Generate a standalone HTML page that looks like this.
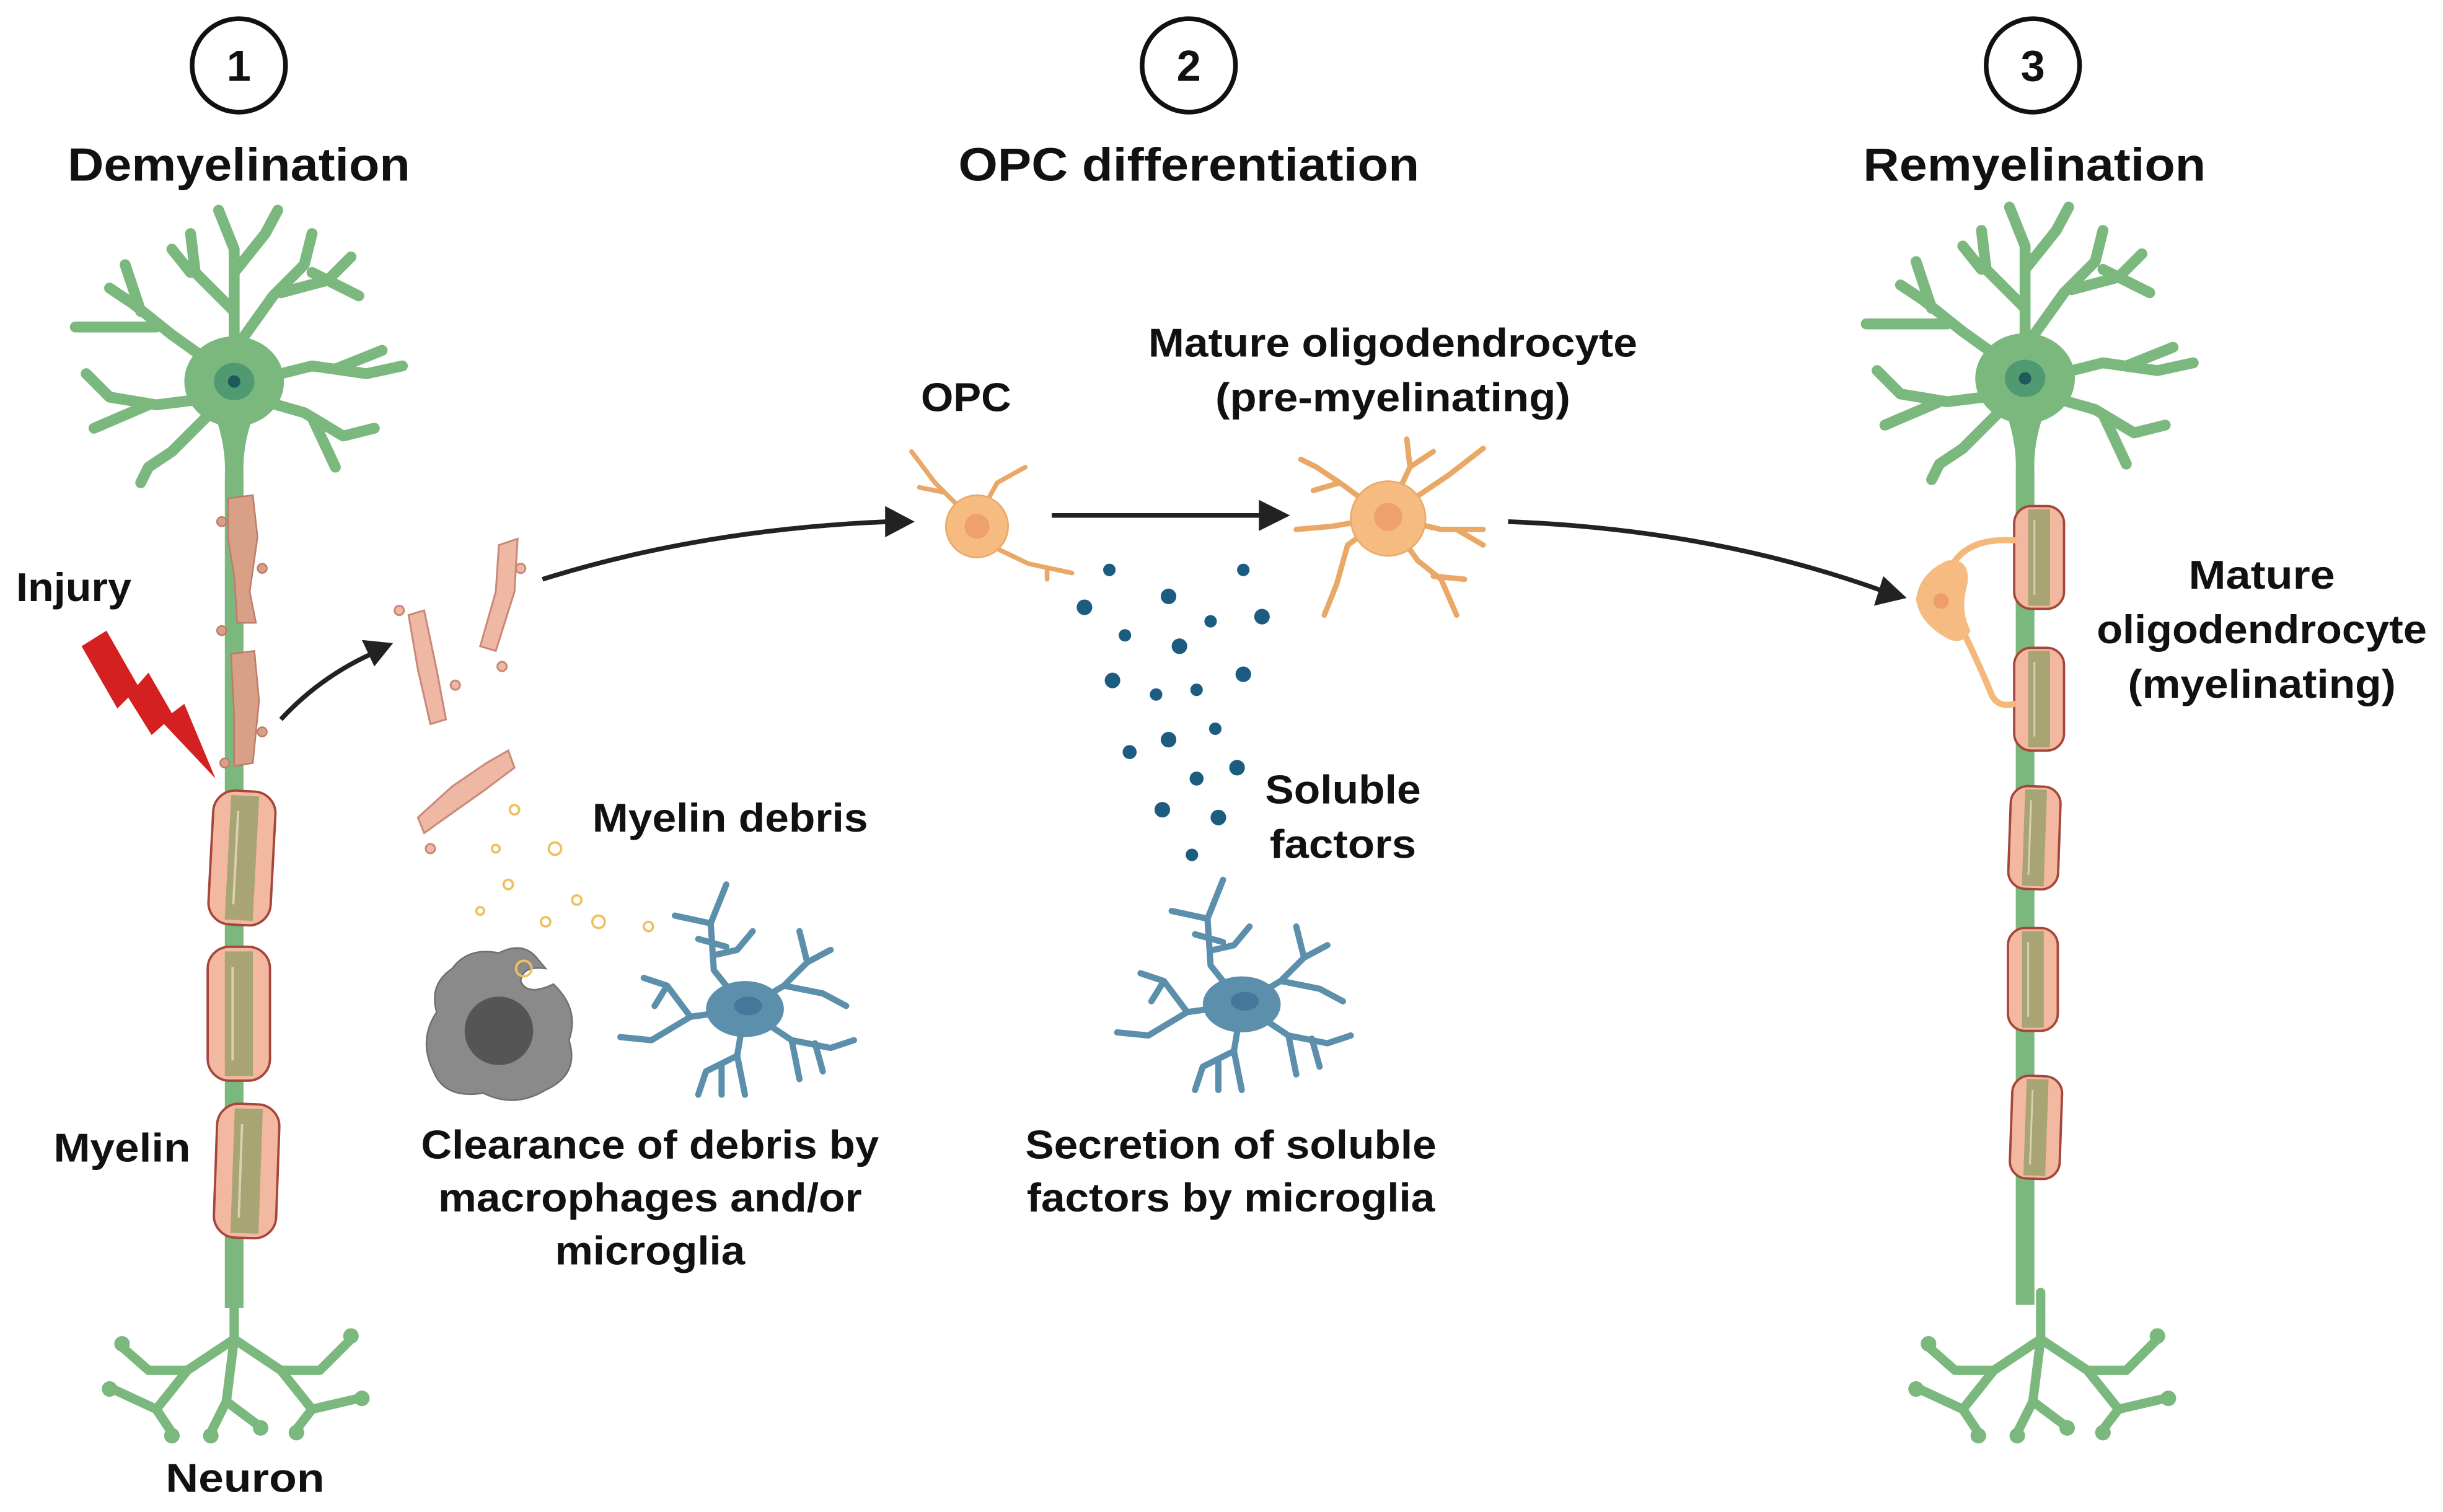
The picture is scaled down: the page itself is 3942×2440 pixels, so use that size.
<!DOCTYPE html>
<html><head><meta charset="utf-8"><style>
html,body{margin:0;padding:0;background:#fff;}
svg{display:block}
text{font-family:"Liberation Sans",sans-serif;font-weight:bold;fill:#111;}
</style></head><body>
<svg width="3942" height="2440" viewBox="0 0 1568 971" xmlns="http://www.w3.org/2000/svg">
<defs>
<g id="ntop">
  <g fill="none" stroke="#7ab87e" stroke-width="7" stroke-linecap="round" stroke-linejoin="round">
    <path d="M150 240 L150 160 L140 135 M150 175 L170 150 L178 135 M150 200 L125 175 L122 150 M122 175 L110 160"/>
    <path d="M150 225 L175 190 L195 170 L200 150 M180 188 L210 180 L225 165 M200 175 L230 190"/>
    <path d="M145 240 L110 215 L85 195 L70 185 M100 210 L75 210 L48 210 M90 200 L80 170"/>
    <path d="M140 255 L100 260 L70 255 L55 240 M95 260 L60 275 M135 265 L110 290 L95 300 L90 310"/>
    <path d="M160 245 L200 235 L235 240 L258 235 M215 237 L245 225"/>
    <path d="M160 255 L195 265 L220 280 L240 275 M200 268 L215 300"/>
  </g>
  <ellipse cx="150" cy="245" rx="32" ry="29" fill="#7ab87e"/>
  <ellipse cx="150" cy="245" rx="13" ry="12" fill="#4f9a70"/>
  <circle cx="150" cy="245" r="4" fill="#1f5a5a"/>
  <path d="M136 262 Q145 285 144 305 L144 840 L156 840 L156 305 Q155 285 164 262 Z" fill="#7ab87e"/>
</g>
<g id="nbot" fill="none" stroke="#7ab87e" stroke-width="6" stroke-linecap="round" stroke-linejoin="round">
  <path d="M150 830 L150 860 L120 880 L95 880 L78 865 M120 880 L100 905 L72 892 M100 905 L110 920"/>
  <path d="M150 860 L145 900 L135 920 M145 900 L165 915"/>
  <path d="M150 860 L180 880 L205 880 L225 860 M180 880 L200 905 L230 898 M200 905 L190 918"/>
  <g fill="#7ab87e" stroke="none"><circle cx="78" cy="863" r="5"/><circle cx="70" cy="892" r="5"/><circle cx="110" cy="922" r="5"/><circle cx="135" cy="922" r="5"/><circle cx="167" cy="917" r="5"/><circle cx="225" cy="858" r="5"/><circle cx="232" cy="898" r="5"/><circle cx="190" cy="920" r="5"/></g>
</g>
<g id="seg">
  <rect x="-20" y="-43" width="40" height="86" rx="14" fill="#f2b8a0" stroke="#a5453c" stroke-width="1.5"/>
  <rect x="-9" y="-40" width="18" height="80" fill="#a8a474"/>
  <line x1="-4" y1="-30" x2="-4" y2="30" stroke="#d8d2b0" stroke-width="1.5"/>
</g>
<g id="segs">
  <rect x="-16" y="-33" width="32" height="66" rx="11" fill="#f2b8a0" stroke="#a5453c" stroke-width="1.5"/>
  <rect x="-7" y="-31" width="14" height="62" fill="#a8a474"/>
  <line x1="-3" y1="-24" x2="-3" y2="24" stroke="#d8d2b0" stroke-width="1.2"/>
</g>
<g id="mg" fill="none" stroke="#5b8fab" stroke-width="4" stroke-linecap="round" stroke-linejoin="round">
  <path d="M0 0 L-20 -25 L-22 -55 L-12 -80 M-22 -55 L-45 -60 M-18 -35 L-5 -38 L5 -50 M-12 -40 L-30 -45"/>
  <path d="M0 0 L-35 5 L-50 -15 L-65 -20 M-35 5 L-60 20 L-80 18 M-50 -15 L-58 -2"/>
  <path d="M0 0 L25 -15 L40 -30 L55 -38 M40 -30 L35 -50 M25 -15 L50 -10 L65 -2"/>
  <path d="M0 0 L30 20 L55 25 L70 20 M45 22 L50 40 M30 20 L35 45"/>
  <path d="M0 0 L-5 30 L-25 40 L-30 55 M-5 30 L0 55 M-15 35 L-15 55"/>
  <ellipse cx="0" cy="0" rx="25" ry="18" fill="#5b8fab" stroke="none"/>
  <ellipse cx="2" cy="-2" rx="9" ry="6" fill="#44789a" stroke="none"/>
</g>
</defs>

<g fill="none" stroke="#111" stroke-width="3">
<circle cx="153" cy="42" r="30"/><circle cx="763" cy="42" r="30"/><circle cx="1305" cy="42" r="30"/>
</g>
<text x="153" y="52" font-size="28" text-anchor="middle">1</text>
<text x="763" y="52" font-size="28" text-anchor="middle">2</text>
<text x="1305" y="52" font-size="28" text-anchor="middle">3</text>
<text x="153" y="116" font-size="30" text-anchor="middle" textLength="220" lengthAdjust="spacingAndGlyphs">Demyelination</text>
<text x="763" y="116" font-size="30" text-anchor="middle" textLength="296" lengthAdjust="spacingAndGlyphs">OPC differentiation</text>
<text x="1306" y="116" font-size="30" text-anchor="middle" textLength="220" lengthAdjust="spacingAndGlyphs">Remyelination</text>

<use href="#ntop"/>
<use href="#nbot"/>
<g fill="#d9a088" stroke="#c07a6a" stroke-width="1">
<path d="M146 320 L162 318 L165 345 L160 380 L164 400 L152 400 L150 370 L146 345 Z"/>
<path d="M148 420 L163 418 L166 450 L162 490 L150 492 L150 460 Z"/>
<circle cx="142" cy="335" r="3"/><circle cx="168" cy="365" r="3"/><circle cx="142" cy="405" r="3"/><circle cx="168" cy="470" r="3"/><circle cx="144" cy="490" r="3"/>
</g>
<use href="#seg" transform="translate(155,551) rotate(3)"/>
<use href="#seg" transform="translate(153,651)"/>
<use href="#seg" transform="translate(158,752) rotate(2)"/>
<path d="M52 415 L68 405 L88 440 L95 432 L110 458 L118 452 L138 500 L105 465 L97 472 L82 448 L75 455 Z" fill="#d42020"/>
<text x="10" y="386" font-size="26" textLength="74" lengthAdjust="spacingAndGlyphs">Injury</text>
<text x="34" y="746" font-size="26" textLength="88" lengthAdjust="spacingAndGlyphs">Myelin</text>
<text x="106" y="958" font-size="26" textLength="102" lengthAdjust="spacingAndGlyphs">Neuron</text>

<g fill="#efb8a4" stroke="#c98878" stroke-width="1.2">
<path d="M262 395 L272 392 L280 430 L286 462 L276 465 L268 430 Z"/>
<path d="M320 350 L332 346 L330 380 L318 418 L308 415 L318 380 Z"/>
<path d="M268 525 L290 505 L312 490 L326 482 L330 493 L310 508 L286 525 L272 535 Z"/>
<circle cx="256" cy="392" r="3"/><circle cx="292" cy="440" r="3"/><circle cx="322" cy="428" r="3"/><circle cx="334" cy="365" r="3"/><circle cx="276" cy="545" r="3"/>
</g>
<g fill="none" stroke="#f0c060" stroke-width="1.5">
<circle cx="330" cy="520" r="3"/><circle cx="356" cy="545" r="4"/><circle cx="318" cy="545" r="2.5"/><circle cx="326" cy="568" r="3"/><circle cx="370" cy="578" r="3"/><circle cx="308" cy="585" r="2.5"/><circle cx="350" cy="592" r="3"/><circle cx="384" cy="592" r="4"/><circle cx="416" cy="595" r="3"/>
</g>
<path d="M290 622 Q300 608 320 612 Q336 604 345 616 L350 622 Q335 620 334 630 Q338 640 355 632 Q372 648 365 668 Q372 690 350 700 Q330 712 310 702 Q285 706 278 688 Q268 668 280 650 Q275 632 290 622 Z" fill="#8a8a8a" stroke="#707070"/>
<circle cx="320" cy="662" r="22" fill="#555"/>
<circle cx="336" cy="622" r="5" fill="none" stroke="#f0c060" stroke-width="1.5"/>
<use href="#mg" transform="translate(478,648)"/>
<text x="380" y="534" font-size="26" textLength="177" lengthAdjust="spacingAndGlyphs">Myelin debris</text>
<text x="417" y="744" font-size="26" text-anchor="middle" textLength="294" lengthAdjust="spacingAndGlyphs">Clearance of debris by</text>
<text x="417" y="778" font-size="26" text-anchor="middle" textLength="272" lengthAdjust="spacingAndGlyphs">macrophages and/or</text>
<text x="417" y="812" font-size="26" text-anchor="middle" textLength="122" lengthAdjust="spacingAndGlyphs">microglia</text>

<g fill="none" stroke="#222" stroke-width="3">
<path d="M180 462 Q205 435 238 420"/>
<path d="M348 372 Q450 340 570 335"/>
<path d="M675 331 L810 331"/>
<path d="M968 335 Q1100 340 1210 380"/>
</g>
<g fill="#222">
<path d="M252 413 L232 411 L240 428 Z"/>
<path d="M587 335 L568 325 L568 345 Z"/>
<path d="M828 331 L808 321 L808 341 Z"/>
<path d="M1224 384 L1209 370 L1203 389 Z"/>
</g>

<g fill="none" stroke="#eaa866" stroke-width="3" stroke-linecap="round">
<path d="M620 330 L600 310 L585 290 M605 316 L590 313"/>
<path d="M630 328 L640 310 L658 300"/>
<path d="M635 350 L660 362 L688 368 M672 365 L672 372"/>
</g>
<circle cx="627" cy="338" r="20" fill="#f6bb80" stroke="#eaa866"/>
<circle cx="627" cy="338" r="8" fill="#f0a06a"/>
<text x="620" y="264" font-size="26" text-anchor="middle" textLength="58" lengthAdjust="spacingAndGlyphs">OPC</text>
<g fill="none" stroke="#eaa866" stroke-width="3.5" stroke-linecap="round" stroke-linejoin="round">
<path d="M890 332 L860 310 L845 300 L835 295 M860 310 L843 315"/>
<path d="M890 332 L905 300 L903 282 M905 300 L920 290"/>
<path d="M890 332 L930 305 L952 288"/>
<path d="M890 332 L925 340 L952 340 M935 340 L952 350"/>
<path d="M890 332 L910 360 L925 372 L935 395 M920 370 L940 372"/>
<path d="M890 332 L865 350 L858 375 L850 395"/>
<path d="M890 332 L855 338 L832 340"/>
</g>
<circle cx="891" cy="333" r="24" fill="#f6bb80" stroke="#eaa866"/>
<circle cx="891" cy="332" r="9" fill="#f0a06a"/>
<text x="894" y="229" font-size="26" text-anchor="middle" textLength="314" lengthAdjust="spacingAndGlyphs">Mature oligodendrocyte</text>
<text x="894" y="264" font-size="26" text-anchor="middle" textLength="228" lengthAdjust="spacingAndGlyphs">(pre-myelinating)</text>
<g fill="#1c5c80">
<circle cx="712" cy="366" r="4"/><circle cx="696" cy="390" r="5"/><circle cx="750" cy="383" r="5"/><circle cx="777" cy="399" r="4"/><circle cx="798" cy="366" r="4"/><circle cx="810" cy="396" r="5"/><circle cx="722" cy="408" r="4"/><circle cx="757" cy="415" r="5"/><circle cx="714" cy="437" r="5"/><circle cx="742" cy="446" r="4"/><circle cx="768" cy="443" r="4"/><circle cx="798" cy="433" r="5"/><circle cx="725" cy="483" r="4.5"/><circle cx="750" cy="475" r="5"/><circle cx="780" cy="468" r="4"/><circle cx="794" cy="493" r="5"/><circle cx="768" cy="500" r="4.5"/><circle cx="746" cy="520" r="5"/><circle cx="782" cy="525" r="5"/><circle cx="765" cy="549" r="4"/>
</g>
<text x="862" y="516" font-size="26" text-anchor="middle" textLength="100" lengthAdjust="spacingAndGlyphs">Soluble</text>
<text x="862" y="551" font-size="26" text-anchor="middle" textLength="94" lengthAdjust="spacingAndGlyphs">factors</text>
<use href="#mg" transform="translate(797,645)"/>
<text x="790" y="744" font-size="26" text-anchor="middle" textLength="264" lengthAdjust="spacingAndGlyphs">Secretion of soluble</text>
<text x="790" y="778" font-size="26" text-anchor="middle" textLength="262" lengthAdjust="spacingAndGlyphs">factors by microglia</text>

<use href="#ntop" transform="translate(1150,-2)"/>
<use href="#nbot" transform="translate(1160,0)"/>
<use href="#segs" transform="translate(1309,358)"/>
<use href="#segs" transform="translate(1309,449)"/>
<use href="#segs" transform="translate(1306,538) rotate(2)"/>
<use href="#segs" transform="translate(1305,629)"/>
<use href="#segs" transform="translate(1307,724) rotate(2)"/>
<g fill="none" stroke="#f3b87a" stroke-width="4" stroke-linecap="round">
<path d="M1252 365 Q1262 345 1293 347"/>
<path d="M1260 405 Q1272 430 1278 445 Q1282 455 1293 452"/>
</g>
<path d="M1250 360 Q1265 358 1263 375 Q1258 392 1265 405 Q1260 415 1250 410 Q1232 400 1230 385 Q1232 368 1250 360 Z" fill="#f6bb80"/>
<circle cx="1246" cy="386" r="5" fill="#ee9e68"/>
<text x="1452" y="378" font-size="26" text-anchor="middle" textLength="94" lengthAdjust="spacingAndGlyphs">Mature</text>
<text x="1452" y="413" font-size="26" text-anchor="middle" textLength="212" lengthAdjust="spacingAndGlyphs">oligodendrocyte</text>
<text x="1452" y="448" font-size="26" text-anchor="middle" textLength="172" lengthAdjust="spacingAndGlyphs">(myelinating)</text>
</svg>
</body></html>
